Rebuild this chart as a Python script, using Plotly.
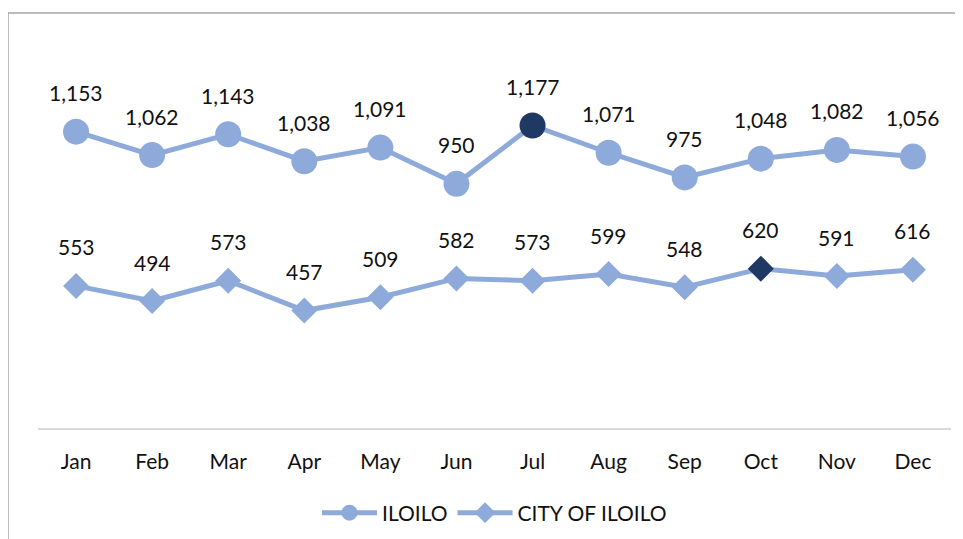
import plotly.graph_objects as go

months = ["Jan", "Feb", "Mar", "Apr", "May", "Jun", "Jul", "Aug", "Sep", "Oct", "Nov", "Dec"]
iloilo = [1153, 1062, 1143, 1038, 1091, 950, 1177, 1071, 975, 1048, 1082, 1056]
city_iloilo = [553, 494, 573, 457, 509, 582, 573, 599, 548, 620, 591, 616]
iloilo_highlight = "Jul"
city_highlight = "Oct"

LIGHT = "#8eaadb"
DARK = "#203864"
FONT = "Lato"

fig = go.Figure()
fig.add_trace(go.Scatter(
    x=months, y=iloilo, name="ILOILO", mode="lines+markers",
    line=dict(color=LIGHT, width=5),
    marker=dict(symbol="circle", size=26,
                color=[DARK if m == iloilo_highlight else LIGHT for m in months]),
))
fig.add_trace(go.Scatter(
    x=months, y=city_iloilo, name="CITY OF ILOILO", mode="lines+markers",
    line=dict(color=LIGHT, width=5),
    marker=dict(symbol="diamond", size=20,
                color=[DARK if m == city_highlight else LIGHT for m in months]),
))

for series in (iloilo, city_iloilo):
    for m, v in zip(months, series):
        fig.add_annotation(x=m, y=v, text=f"{v:,}", showarrow=False,
                           yshift=39, font=dict(family=FONT, size=21, color="#111111"))

fig.add_shape(type="rect", xref="paper", yref="paper",
              x0=-0.0329, x1=1.05, y0=-0.6, y1=1.159,
              line=dict(color="#a6a6a6", width=1.5), fillcolor="rgba(0,0,0,0)")

fig.update_layout(
    width=955, height=531,
    margin=dict(l=30, r=12, t=62, b=111, autoexpand=False),
    paper_bgcolor="white", plot_bgcolor="white",
    font=dict(family=FONT, size=21, color="#111111"),
    showlegend=True,
    legend=dict(orientation="h", x=0.5, xanchor="center",
                yref="container", y=0.049, yanchor="middle",
                font=dict(family=FONT, size=21, color="#111111"), itemwidth=55),
    xaxis=dict(type="category", range=[-0.5, 11.5], showgrid=False, showline=True,
               linecolor="#d9d9d9", linewidth=2, ticks="", ticklabelstandoff=14,
               zeroline=False, automargin=False,
               tickfont=dict(family=FONT, size=21, color="#111111")),
    yaxis=dict(range=[0, 1393], visible=False, showgrid=False, zeroline=False),
)

fig.write_html("out.html")
